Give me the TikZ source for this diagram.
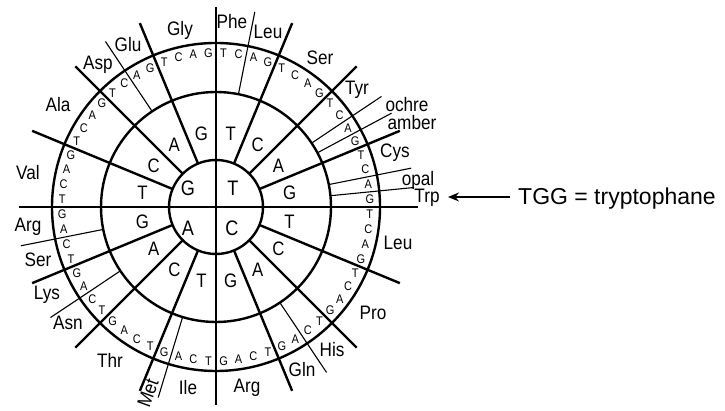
\documentclass[tikz,border=0pt]{standalone}
\usepackage{fontspec}
\setmainfont{Liberation Sans}
\usetikzlibrary{arrows.meta}
\begin{document}
\begin{tikzpicture}[x=1pt,y=1pt,
  ring/.style={line width=2.4pt},
  thickspoke/.style={line width=2.4pt},
  thinspoke/.style={line width=1.1pt},
  firstl/.style={font=\fontsize{21}{21}\selectfont, inner sep=0, xscale=0.86},
  secondl/.style={font=\fontsize{19.5}{19.5}\selectfont, inner sep=0, xscale=0.86},
  thirdl/.style={font=\fontsize{12.5}{12.5}\selectfont, inner sep=0, xscale=0.88},
  aminofont/.style={font=\fontsize{19.5}{19.5}\selectfont, inner sep=0},
  amino/.style={aminofont, xscale=0.88},
  ]
\useasboundingbox (0,0) rectangle (725,411);
\coordinate (C) at (216,204);
\draw[ring] (C) circle (47pt);
\draw[ring] (C) circle (115pt);
\draw[ring] (C) circle (164pt);
% axes
\coordinate (top) at ([shift={(90:200pt)}]C);
\coordinate (bot) at ([shift={(-90:198pt)}]C);
\coordinate (lft) at ([shift={(180:197pt)}]C);
\coordinate (rgt) at ([shift={(0:202pt)}]C);
\draw[thickspoke] (top) -- (bot);
\draw[thickspoke] (lft) -- (rgt);
% thick spokes
\foreach \k in {1,2,3,5,6,7,9,10,11,13,14,15}{
  \pgfmathsetmacro{\a}{90-\k*22.5}
  \draw[thickspoke] ([shift={(\a:47pt)}]C) -- ([shift={(\a:199pt)}]C);
}
% thin spokes
\foreach \a in {78.75, 33.75, 28.125, 11.25, 5.625, -56.25, -106.875, -146.25, -168.75, 123.75}{
  \draw[thinspoke] ([shift={(\a:115pt)}]C) -- ([shift={(\a:199pt)}]C);
}
% first letters
\node[firstl] (fT) at ([shift={(17pt,19pt)}]C) {T};
\node[firstl] (fC) at ([shift={(16pt,-21pt)}]C) {C};
\node[firstl] (fA) at ([shift={(-28pt,-21pt)}]C) {A};
\node[firstl] (fG) at ([shift={(-28pt,19pt)}]C) {G};
% second letters
\foreach \q in {0,...,3}{
  \foreach \l [count=\i from 0] in {T,C,A,G}{
    \pgfmathsetmacro{\a}{90-(4*\q+\i+0.5)*22.5}
    \node[secondl] (s\q\l) at ([shift={(\a:75pt)}]C) {\l};
  }
}
% third letters
\foreach \q in {0,...,3}{
  \foreach \l [count=\i from 0] in {T,C,A,G}{
    \foreach \m [count=\j from 0] in {T,C,A,G}{
      \pgfmathsetmacro{\a}{90-(16*\q+4*\i+\j+0.5)*5.625}
      \node[thirdl] (c\q\l\m) at ([shift={(\a:154pt)}]C) {\m};
    }
  }
}
% amino acids
\node[amino] (gly) at (180,381) {Gly};
\node[amino] (glu) at (128,366) {Glu};
\node[amino] (asp) at (98,346) {Asp};
\node[amino] (ala) at (58,306) {Ala};
\node[amino] (val) at (28,238) {Val};
\node[amino] (phe) at (232,389) {Phe};
\node[amino] (leu1) at (268,379) {Leu};
\node[amino] (ser1) at (320,353) {Ser};
\node[amino] (tyr) at (357,321) {Tyr};
\node[amino] (ochre) at (407,306) {ochre};
\node[amino] (amber) at (412,288) {amber};
\node[amino] (cys) at (395,258) {Cys};
\node[amino] (opal) at (418,231) {opal};
\node[amino] (trp) at (427,213) {Trp};
\node[amino] (arg1) at (28,184) {Arg};
\node[amino] (ser2) at (38,151) {Ser};
\node[amino] (lys) at (47,116) {Lys};
\node[amino] (asn) at (68,88) {Asn};
\node[amino] (thr) at (110,51) {Thr};
\node[aminofont, rotate=70, xscale=0.88] (met) at (148,18) {Met};
\node[amino] (ile) at (188,23) {Ile};
\node[amino] (leu2) at (398,168) {Leu};
\node[amino] (pro) at (373,98) {Pro};
\node[amino] (his) at (332,61) {His};
\node[amino] (gln) at (302,41) {Gln};
\node[amino] (arg2) at (247,23) {Arg};
% annotation
\node[font=\fontsize{23}{23}\selectfont, inner sep=0, anchor=base west] (tgg) at (518,206) {TGG = tryptophane};
\coordinate (tip) at (448,214);
\draw[line width=1.5pt, -{Stealth[length=11pt,width=9pt]}] ([shift={(-8pt,8pt)}]tgg.base west) -- (tip);
\end{tikzpicture}
\end{document}
